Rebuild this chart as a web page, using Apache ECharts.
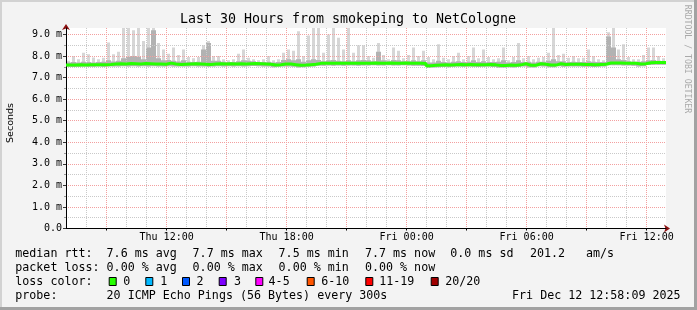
<!DOCTYPE html>
<html><head><meta charset="utf-8">
<script src="https://cdn.jsdelivr.net/npm/echarts@6/dist/echarts.min.js"></script>
<style>html,body{margin:0;padding:0;background:#f3f3f3;}#c{width:697px;height:310px;}</style>
</head><body><div id="c"></div>
<script>
// ---- data (time in hours since Thu 00:00) ----
const startHour = 6.969;   // Thu 06:58:09
const endHour = 36.969;    // Fri 12:58:09
const stepHours = 0.25;
const median = [
7.58,7.58,7.59,7.58,7.59,7.60,7.59,7.60,7.61,7.63,7.64,7.63,7.65,7.64,7.63,7.65,7.64,7.63,7.63,7.62,7.67,7.63,7.61,7.62,7.63,7.64,7.63,7.62,7.61,7.63,
7.64,7.63,7.64,7.63,7.64,7.63,7.64,7.65,7.64,7.63,7.62,7.58,7.60,7.63,7.63,7.60,7.57,7.58,7.60,7.62,7.66,7.66,7.67,7.66,7.67,7.66,7.67,7.67,7.66,7.67,
7.67,7.68,7.67,7.67,7.68,7.67,7.67,7.68,7.67,7.66,7.66,7.65,7.55,7.57,7.58,7.59,7.58,7.60,7.61,7.60,7.61,7.60,7.59,7.60,7.61,7.59,7.56,7.56,7.58,7.57,
7.59,7.64,7.57,7.57,7.64,7.62,7.58,7.58,7.64,7.61,7.62,7.62,7.62,7.61,7.61,7.60,7.61,7.62,7.68,7.68,7.68,7.67,7.67,7.66,7.63,7.64,7.69,7.70,7.70,7.70];
const smokeMax = [
7.78,8.00,7.85,8.15,8.08,7.93,7.85,7.92,8.63,8.08,8.20,9.30,9.30,9.20,9.30,8.70,9.30,9.30,8.60,8.30,8.10,8.40,8.05,8.30,7.95,7.90,7.95,8.50,8.70,8.00,
8.00,7.85,7.80,7.85,8.10,8.30,7.92,7.85,7.80,7.85,8.00,7.80,7.85,8.15,8.30,8.25,9.15,8.00,8.95,9.30,9.30,8.15,9.00,9.30,8.85,8.30,9.30,8.15,8.50,8.50,
8.00,7.92,8.60,8.05,7.85,8.40,8.25,7.90,8.05,8.40,8.00,8.25,7.95,7.85,8.55,7.92,7.85,8.00,8.15,7.85,8.00,8.40,7.90,8.30,7.95,7.85,7.90,8.40,7.80,7.95,
8.60,7.90,8.00,7.85,7.92,7.95,8.15,9.30,8.05,8.10,7.92,8.00,7.90,7.92,8.30,8.00,7.85,7.80,9.10,9.30,8.30,8.55,7.95,7.85,7.85,8.05,8.40,8.40,8.00,7.90];
const smokeMid = [
7.70,7.72,7.70,7.74,7.72,7.70,7.72,7.74,7.80,7.75,7.78,7.90,7.95,8.00,7.95,7.85,8.40,9.20,7.90,7.80,7.82,7.78,7.75,7.80,7.74,7.72,7.74,8.30,8.60,7.78,
7.78,7.74,7.72,7.72,7.76,7.80,7.78,7.76,7.72,7.72,7.74,7.70,7.72,7.82,7.85,7.80,7.85,7.74,7.80,7.85,7.82,7.76,7.80,7.82,7.78,7.76,7.80,7.76,7.80,7.82,
7.80,7.76,8.20,7.80,7.76,7.82,7.80,7.76,7.76,7.80,7.76,7.80,7.70,7.70,7.78,7.72,7.70,7.74,7.76,7.72,7.74,7.80,7.72,7.76,7.72,7.72,7.74,7.80,7.70,7.72,
7.80,7.72,7.74,7.70,7.74,7.74,7.78,7.85,7.76,7.76,7.72,7.74,7.72,7.72,7.76,7.74,7.72,7.72,8.90,8.40,7.85,7.82,7.76,7.74,7.74,7.76,7.80,7.82,7.78,7.76];
const smokeMin = [
7.50,7.49,7.50,7.51,7.50,7.50,7.51,7.50,7.51,7.52,7.52,7.53,7.52,7.53,7.52,7.53,7.52,7.53,7.52,7.52,7.53,7.52,7.51,7.52,7.52,7.53,7.52,7.51,7.50,7.52,
7.53,7.52,7.53,7.52,7.53,7.52,7.53,7.54,7.53,7.52,7.51,7.48,7.50,7.52,7.52,7.50,7.47,7.48,7.50,7.52,7.55,7.55,7.56,7.55,7.56,7.55,7.56,7.56,7.55,7.56,
7.56,7.57,7.56,7.56,7.57,7.56,7.56,7.57,7.56,7.55,7.55,7.54,7.45,7.47,7.48,7.49,7.48,7.50,7.51,7.50,7.51,7.50,7.49,7.50,7.51,7.49,7.46,7.46,7.48,7.47,
7.49,7.52,7.47,7.47,7.53,7.51,7.48,7.48,7.53,7.50,7.51,7.51,7.51,7.50,7.50,7.49,7.50,7.51,7.57,7.57,7.57,7.56,7.56,7.55,7.52,7.53,7.58,7.59,7.59,7.59];
const yMax = 9.3;
const yTicks = [0,1,2,3,4,5,6,7,8,9];
const yMinorTicks = [0.5,1.5,2.5,3.5,4.5,5.5,6.5,7.5,8.5];
const xLabelHours = [12,18,24,30,36];
const xMajorHours = [9,12,15,18,21,24,27,30,33,36];
const xMinorHours = [7,8,10,11,13,14,16,17,19,20,22,23,25,26,28,29,31,32,34,35];
const title = 'Last 30 Hours from smokeping to NetCologne';
const yName = 'Seconds';
const sideText = 'RRDTOOL / TOBI OETIKER';
const legendLines = [
  {y:254.2, parts:[['median rtt:',15.3],['7.6 ms avg',106.6],['7.7 ms max',192.6],['7.5 ms min',278.6],['7.7 ms now',365],['0.0 ms sd',450.3],['201.2',530],['am/s',586]]},
  {y:268.2, parts:[['packet loss:',15.3],['0.00 % avg',106.6],['0.00 % max',192.6],['0.00 % min',278.6],['0.00 % now',365]]},
  {y:282, parts:[['loss color:',15.3]]},
  {y:296, parts:[['probe:',15.3],['20 ICMP Echo Pings (56 Bytes) every 300s',106.6]]}
];
const lossLabels = ['0','1','2','3','4-5','6-10','11-19','20/20'];
const lossColors = ['#26ff00','#00b8ff','#0059ff','#7e00ff','#ff00ff','#ff5500','#ff0000','#a00000'];
const lossBoxX = [108.7,145.3,182,218.7,255.3,306.7,365.3,430.7];
const lossTextX = [123.3,160.3,196.6,234,268.6,321.3,379.3,445.3];
const dateText = 'Fri Dec 12 12:58:09 2025';

// ---- build ----
const times = median.map((_, i) => startHour + i * stepHours);
const smokeData = times.map((t, i) => [t, smokeMin[i], smokeMid[i], smokeMax[i]]);
const medData = times.map((t, i) => [t, median[i]]);
medData.push([startHour + median.length * stepHours, median[median.length - 1]]);

const MONO = "'DejaVu Sans Mono', monospace";
const RED = '#f3a0a0', GRAY = '#c9c9c9';
function fmtHour(v) { return (v < 24 ? 'Thu' : 'Fri') + ' ' + String(v % 24).padStart(2, '0') + ':00'; }
function txt(text, x, y, size, opts) {
  opts = opts || {};
  return { type: 'text', x: x, y: y, rotation: opts.rotation || 0, silent: true, z: 10,
    style: { text: text, fill: opts.color || '#000', font: (opts.size || size) + 'px ' + (opts.family || MONO),
      textAlign: opts.align || 'left', align: opts.align || 'left', textVerticalAlign: 'middle', verticalAlign: 'middle' } };
}
const graphics = [
  { type: 'rect', shape: { x: 0, y: 0, width: 697, height: 2 }, style: { fill: '#d2d2d2' }, silent: true },
  { type: 'rect', shape: { x: 0, y: 0, width: 2, height: 310 }, style: { fill: '#d2d2d2' }, silent: true },
  { type: 'rect', shape: { x: 0, y: 307, width: 697, height: 3 }, style: { fill: '#a2a2a2' }, silent: true },
  { type: 'rect', shape: { x: 694, y: 0, width: 3, height: 310 }, style: { fill: '#a2a2a2' }, silent: true },
  txt(title, 348, 20, 13.3, { align: 'center' }),
  txt(yName, 11, 123, 9.5, { rotation: Math.PI / 2, align: 'center', family: "'DejaVu Sans', sans-serif" }),
  txt(sideText, 687, 59, 8.2, { rotation: -Math.PI / 2, align: 'center', color: '#a9a9a9' }),
  txt(dateText, 680.5, 296, 11.67, { align: 'right' })
];
legendLines.forEach(l => l.parts.forEach(p => graphics.push(txt(p[0], p[1], l.y, 11.67))));
lossLabels.forEach((lab, i) => {
  graphics.push({ type: 'rect', silent: true, z: 10, shape: { x: lossBoxX[i] + 0.5, y: 277.5, width: 7, height: 8 },
    style: { fill: lossColors[i], stroke: '#000', lineWidth: 1 } });
  graphics.push(txt(lab, lossTextX[i], 282, 11.67));
});

const base = { type: 'value', min: startHour, max: endHour, position: 'bottom',
  axisLine: { show: false }, axisTick: { show: false }, axisLabel: { show: false }, splitLine: { show: false } };
const ybase = { type: 'value', min: 0, max: yMax, position: 'left',
  axisLine: { show: false }, axisTick: { show: false }, axisLabel: { show: false }, splitLine: { show: false } };

const option = {
  animation: false,
  backgroundColor: '#f3f3f3',
  grid: { left: 66, right: 31, top: 28, bottom: 81.5, show: true, backgroundColor: '#ffffff', borderWidth: 0 },
  xAxis: [
    Object.assign({}, base, { z: 4,
      axisLine: { show: true, onZero: false, lineStyle: { color: '#000', width: 1 } },
      axisTick: { show: true, customValues: xMajorHours, length: 2, lineStyle: { color: '#000' } },
      axisLabel: { show: true, customValues: xLabelHours, formatter: fmtHour, margin: 4, color: '#000', fontFamily: MONO, fontSize: 10 },
      splitLine: { show: true, lineStyle: { color: RED, type: [1, 1], width: 1 } } }),
    Object.assign({}, base, { z: 3,
      axisTick: { show: false, customValues: xMinorHours },
      splitLine: { show: true, lineStyle: { color: GRAY, type: [1, 1], width: 1 } } }),
    Object.assign({}, base, { z: 3.5,
      axisLine: { show: true, onZero: false, symbol: ['none', 'arrow'], symbolSize: [6, 6], symbolOffset: [0, 4], lineStyle: { color: '#8b1010', width: 1 } } })
  ],
  yAxis: [
    Object.assign({}, ybase, { z: 4,
      axisLine: { show: true, onZero: false, lineStyle: { color: '#000', width: 1 } },
      axisTick: { show: true, customValues: yTicks, length: 3, lineStyle: { color: '#333' } },
      axisLabel: { show: true, customValues: yTicks, formatter: v => v === 0 ? '0.0' : v.toFixed(1) + ' m', margin: 4, color: '#000', fontFamily: MONO, fontSize: 10 },
      splitLine: { show: true, lineStyle: { color: RED, type: [1, 1], width: 1 } } }),
    Object.assign({}, ybase, { z: 3,
      axisTick: { show: true, customValues: yMinorTicks, length: 2, lineStyle: { color: '#999' } },
      splitLine: { show: true, lineStyle: { color: GRAY, type: [1, 1], width: 1 } } }),
    Object.assign({}, ybase, { z: 3.5,
      axisLine: { show: true, onZero: false, symbol: ['none', 'arrow'], symbolSize: [6, 6], symbolOffset: [0, 4], lineStyle: { color: '#8b1010', width: 1 } } })
  ],
  graphic: graphics,
  series: [
    { type: 'custom', xAxisIndex: 0, yAxisIndex: 0, z: 2, clip: true, silent: true, data: smokeData,
      renderItem: function (params, api) {
        const t = api.value(0);
        const pLo = api.coord([t, api.value(1)]);
        const pMid = api.coord([t, api.value(2)]);
        const pHi = api.coord([t + stepHours, api.value(3)]);
        const w = pHi[0] - pLo[0];
        return { type: 'group', children: [
          { type: 'rect', shape: { x: pLo[0] + w * 0.2, y: pHi[1], width: w * 0.6, height: pLo[1] - pHi[1] }, style: { fill: '#d6d6d6' } },
          { type: 'rect', shape: { x: pLo[0], y: pMid[1], width: w, height: pLo[1] - pMid[1] }, style: { fill: '#b2b2b2' } }
        ] };
      } },
    { type: 'line', xAxisIndex: 0, yAxisIndex: 0, z: 6, data: medData, step: 'end', symbol: 'none', silent: true,
      lineStyle: { color: '#26ff00', width: 3 } }
  ]
};
const chart = echarts.init(document.getElementById('c'), null, { renderer: 'canvas', width: 697, height: 310 });
chart.setOption(option);
</script></body></html>
